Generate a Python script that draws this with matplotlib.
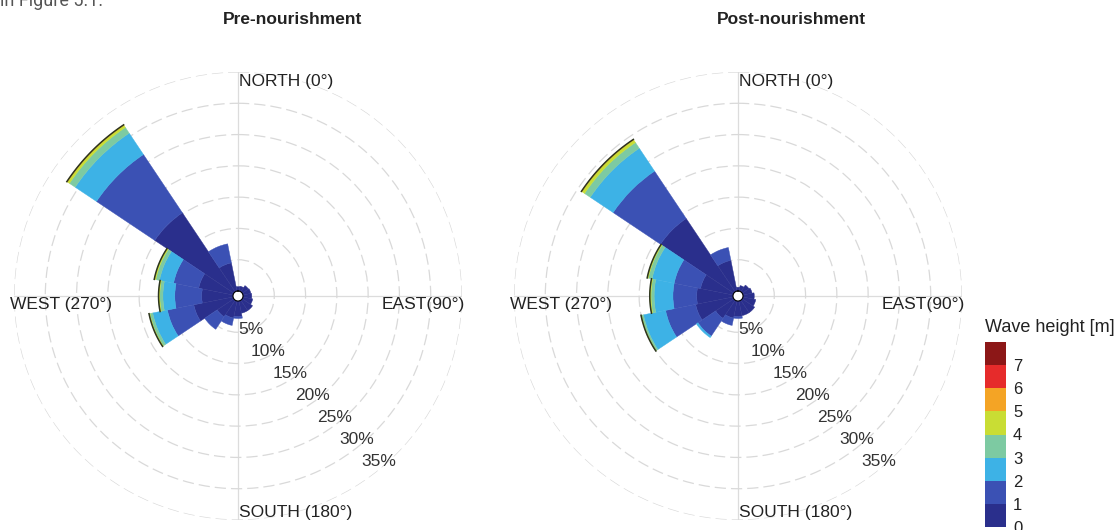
import numpy as np
import matplotlib
matplotlib.use("Agg")
import matplotlib.pyplot as plt
import matplotlib as mpl
from matplotlib.colors import ListedColormap, BoundaryNorm

plt.rcParams['font.family'] = ['Liberation Sans', 'DejaVu Sans']

# ---------------- data ----------------
directions = ['N', 'NNE', 'NE', 'ENE', 'E', 'ESE', 'SE', 'SSE',
              'S', 'SSW', 'SW', 'WSW', 'W', 'WNW', 'NW', 'NNW']
direction_deg = [0, 22.5, 45, 67.5, 90, 112.5, 135, 157.5,
                 180, 202.5, 225, 247.5, 270, 292.5, 315, 337.5]

height_bins = [0, 1, 2, 3, 4, 5, 6, 7, 8]
height_labels = ['0', '1', '2', '3', '4', '5', '6', '7']
bin_colors = ['#2a2f8c', '#3b51b4', '#3db2e6', '#7dcaa2',
              '#c9dd34', '#f4a425', '#e62b2b', '#8c1717']

# Pre-nourishment: frequency (%) per wave-height bin, per direction
pre_h01 = [0.7, 0.8, 1.2, 1.3, 1.4, 1.6, 2.0, 2.0, 2.5, 2.8, 3.2, 6.4, 5.0, 5.6, 15.2, 4.6]
pre_h12 = [0.0, 0.0, 0.0, 0.0, 0.0, 0.0, 0.0, 0.0, 0.3, 1.2, 2.4, 4.3, 4.3, 4.1, 11.2, 3.1]
pre_h23 = [0.0, 0.0, 0.0, 0.0, 0.0, 0.0, 0.0, 0.0, 0.0, 0.0, 0.0, 2.4, 1.9, 2.3, 4.1, 0.0]
pre_h34 = [0.0, 0.0, 0.0, 0.0, 0.0, 0.0, 0.0, 0.0, 0.0, 0.0, 0.0, 0.45, 0.5, 0.6, 1.1, 0.0]
pre_h45 = [0.0, 0.0, 0.0, 0.0, 0.0, 0.0, 0.0, 0.0, 0.0, 0.0, 0.0, 0.15, 0.2, 0.25, 0.4, 0.0]
pre_h56 = [0.0, 0.0, 0.0, 0.0, 0.0, 0.0, 0.0, 0.0, 0.0, 0.0, 0.0, 0.0, 0.0, 0.0, 0.1, 0.0]
pre_h67 = [0.0] * 16
pre_h7p = [0.0] * 16

# Post-nourishment
post_h01 = [0.6, 0.9, 1.3, 1.5, 1.8, 2.1, 2.4, 2.4, 2.5, 2.8, 3.5, 6.1, 5.8, 5.3, 14.1, 5.0]
post_h12 = [0.0, 0.0, 0.0, 0.0, 0.0, 0.0, 0.0, 0.0, 0.3, 1.2, 3.4, 4.9, 3.8, 4.3, 9.1, 2.1]
post_h23 = [0.0, 0.0, 0.0, 0.0, 0.0, 0.0, 0.0, 0.0, 0.0, 0.0, 0.3, 3.6, 3.0, 3.6, 4.4, 0.0]
post_h34 = [0.0, 0.0, 0.0, 0.0, 0.0, 0.0, 0.0, 0.0, 0.0, 0.0, 0.0, 0.3, 0.5, 0.6, 1.1, 0.0]
post_h45 = [0.0, 0.0, 0.0, 0.0, 0.0, 0.0, 0.0, 0.0, 0.0, 0.0, 0.0, 0.1, 0.2, 0.2, 0.5, 0.0]
post_h56 = [0.0, 0.0, 0.0, 0.0, 0.0, 0.0, 0.0, 0.0, 0.0, 0.0, 0.0, 0.0, 0.0, 0.0, 0.1, 0.0]
post_h67 = [0.0] * 16
post_h7p = [0.0] * 16

ring_pct = [5, 10, 15, 20, 25, 30, 35]
ring_labels = ['5%', '10%', '15%', '20%', '25%', '30%', '35%']

panel_titles = ['Pre-nourishment', 'Post-nourishment']
axis_names = ['NORTH (0°)', 'EAST(90°)', 'SOUTH (180°)', 'WEST (270°)']
colorbar_title = 'Wave height [m]'

pre_bins = [pre_h01, pre_h12, pre_h23, pre_h34, pre_h45, pre_h56, pre_h67, pre_h7p]
post_bins = [post_h01, post_h12, post_h23, post_h34, post_h45, post_h56, post_h67, post_h7p]

# ---------------- figure ----------------
W, H = 1118, 530
fig = plt.figure(figsize=(W / 100, H / 100), dpi=100)
fig.patch.set_facecolor('white')

R_PX = 224
RMAX = 35
RORIGIN = -0.8
sector_w = np.deg2rad(22.5)


def rose(cx, cy, bins, title, title_xy):
    ax = fig.add_axes([(cx - R_PX) / W, (H - cy - R_PX) / H, 2 * R_PX / W, 2 * R_PX / H],
                      projection='polar')
    ax.set_theta_zero_location('N')
    ax.set_theta_direction(-1)
    ax.set_ylim(0, RMAX)
    ax.set_rorigin(RORIGIN)
    for sp in ax.spines.values():
        sp.set_visible(False)
    ax.set_facecolor('white')
    ax.set_axisbelow(True)
    ax.set_yticks(ring_pct)
    ax.set_yticklabels([])
    ax.set_xticks(np.deg2rad([0, 90, 180, 270]))
    ax.set_xticklabels([])
    ax.yaxis.grid(True, color='#d9d9d9', linestyle=(0, (9, 4)), linewidth=0.9)
    ax.xaxis.grid(True, color='#dcdcdc', linestyle='-', linewidth=0.9)

    theta = np.deg2rad(direction_deg)
    bottom = np.zeros(len(directions))
    for vals, col in zip(bins, bin_colors):
        vals = np.asarray(vals, dtype=float)
        mask = vals > 0
        if mask.any():
            ax.bar(theta[mask], vals[mask], width=sector_w, bottom=bottom[mask],
                   color=col, edgecolor=col, linewidth=0.3, align='center', zorder=2)
        bottom = bottom + vals
    # dark outer rim on sectors containing waves above 4 m
    high = np.asarray(bins[4]) > 0
    for th, tot, h in zip(theta, bottom, high):
        if h:
            arc = np.linspace(th - sector_w / 2, th + sector_w / 2, 40)
            ax.plot(arc, np.full_like(arc, tot), color='#2c3420', linewidth=1.1, zorder=3)

    for p, lab in zip(ring_pct, ring_labels):
        ax.text(np.deg2rad(135), p, lab, ha='right', va='top', fontsize=12.5,
                color='#333333', zorder=4)

    tk = dict(transform=ax.transAxes, fontsize=12.5, color='#222222')
    ax.text(0.502, 0.978, axis_names[0], ha='left', va='center', **tk)
    ax.text(1.007, 0.482, axis_names[1], ha='right', va='center', **tk)
    ax.text(0.502, 0.016, axis_names[2], ha='left', va='center', **tk)
    ax.text(-0.009, 0.482, axis_names[3], ha='left', va='center', **tk)

    fig.text(title_xy[0] / W, 1 - title_xy[1] / H, title, ha='center', va='center',
             fontsize=12.5, fontweight='bold', color='#222222')
    return ax


rose(238, 296, pre_bins, panel_titles[0], (293, 19))
rose(738, 296, post_bins, panel_titles[1], (791, 20))

# colorbar
cax = fig.add_axes([985 / W, (H - 527) / H, 21 / W, 185 / H])
cmap = ListedColormap(bin_colors)
norm = BoundaryNorm(height_bins, cmap.N)
cb = mpl.colorbar.ColorbarBase(cax, cmap=cmap, norm=norm, boundaries=height_bins,
                               ticks=height_bins[:-1], orientation='vertical')
cb.ax.minorticks_off()
cb.ax.set_yticks(height_bins[:-1])
cb.ax.set_yticklabels(height_labels, fontsize=12, color='#222222')
cb.ax.tick_params(length=0, pad=5)
cb.outline.set_visible(False)
fig.text(985 / W, 1 - 327 / H, colorbar_title, ha='left', va='center',
         fontsize=13, color='#222222')

# cropped running text of the source page
fig.text(0.0, 1 - 6 / H, 'in Figure 5.1.', ha='left', va='baseline',
         fontsize=13, color='#555555', family=['Roboto', 'DejaVu Sans'])

fig.savefig('out.png', dpi=100, facecolor='white')
